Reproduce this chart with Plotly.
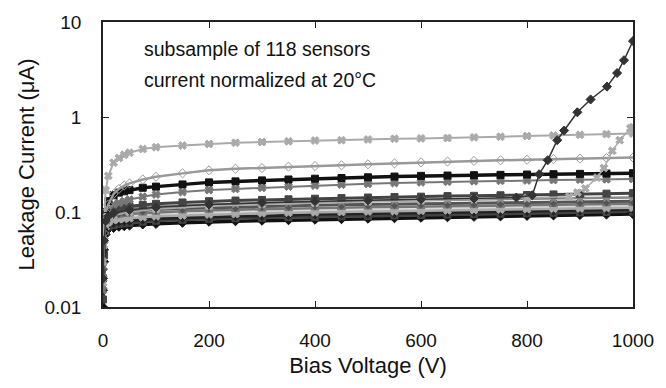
import plotly.graph_objects as go

# Common bias-voltage grid (V)
V = [0, 2, 5, 10, 20, 30, 40, 50, 75, 100, 150, 200, 250, 300, 350, 400,
     450, 500, 550, 600, 650, 700, 750, 800, 850, 900, 950, 1000]

# Upper, well-separated sensors (uA)
top_x = [0.03, 0.08, 0.17, 0.24, 0.33, 0.37, 0.40, 0.42, 0.46, 0.48, 0.50, 0.52, 0.535, 0.545,
         0.555, 0.565, 0.57, 0.58, 0.59, 0.595, 0.60, 0.61, 0.62, 0.63, 0.64, 0.65, 0.66, 0.67]
mid_diamond = [0.02, 0.06, 0.10, 0.12, 0.155, 0.175, 0.19, 0.20, 0.22, 0.235, 0.255, 0.275, 0.285, 0.29,
               0.30, 0.305, 0.31, 0.318, 0.325, 0.333, 0.34, 0.345, 0.35, 0.355, 0.36, 0.365, 0.37, 0.375]
black_k = [0.02, 0.06, 0.10, 0.13, 0.15, 0.16, 0.165, 0.17, 0.18, 0.185, 0.195, 0.205, 0.21, 0.215,
           0.22, 0.224, 0.228, 0.232, 0.236, 0.24, 0.242, 0.244, 0.246, 0.248, 0.25, 0.252, 0.254, 0.256]
gray_g = [0.015, 0.05, 0.085, 0.105, 0.12, 0.125, 0.13, 0.135, 0.145, 0.153, 0.162, 0.17, 0.175, 0.18,
          0.185, 0.19, 0.194, 0.198, 0.202, 0.205, 0.208, 0.211, 0.213, 0.215, 0.217, 0.219, 0.221, 0.223]

# Main bundle of sensors (uA)
b1 = [0.010, 0.030, 0.058, 0.066, 0.068, 0.070, 0.071, 0.072, 0.074, 0.075, 0.077, 0.079, 0.080, 0.081,
      0.082, 0.083, 0.084, 0.085, 0.086, 0.087, 0.088, 0.089, 0.090, 0.091, 0.092, 0.093, 0.094, 0.095]
b2 = [0.012, 0.035, 0.062, 0.070, 0.073, 0.075, 0.076, 0.077, 0.079, 0.081, 0.083, 0.085, 0.086, 0.087,
      0.088, 0.089, 0.090, 0.091, 0.092, 0.093, 0.094, 0.095, 0.096, 0.097, 0.098, 0.099, 0.100, 0.101]
b3 = [0.015, 0.040, 0.065, 0.073, 0.077, 0.079, 0.080, 0.081, 0.083, 0.085, 0.087, 0.089, 0.090, 0.091,
      0.093, 0.094, 0.095, 0.096, 0.097, 0.098, 0.099, 0.100, 0.101, 0.102, 0.103, 0.104, 0.105, 0.106]
b4 = [0.018, 0.045, 0.070, 0.078, 0.082, 0.084, 0.085, 0.086, 0.088, 0.090, 0.092, 0.094, 0.095, 0.097,
      0.098, 0.099, 0.100, 0.101, 0.102, 0.103, 0.104, 0.105, 0.106, 0.107, 0.108, 0.109, 0.110, 0.111]
b5 = [0.020, 0.050, 0.075, 0.082, 0.086, 0.088, 0.089, 0.090, 0.092, 0.094, 0.096, 0.098, 0.099, 0.101,
      0.102, 0.103, 0.104, 0.105, 0.106, 0.107, 0.108, 0.109, 0.110, 0.111, 0.112, 0.113, 0.114, 0.115]
b6 = [0.022, 0.055, 0.078, 0.085, 0.090, 0.092, 0.094, 0.095, 0.097, 0.099, 0.102, 0.104, 0.106, 0.107,
      0.108, 0.110, 0.111, 0.112, 0.113, 0.114, 0.115, 0.116, 0.117, 0.118, 0.119, 0.120, 0.121, 0.122]
b7 = [0.025, 0.060, 0.082, 0.089, 0.095, 0.098, 0.100, 0.101, 0.104, 0.106, 0.109, 0.111, 0.113, 0.115,
      0.116, 0.118, 0.119, 0.120, 0.121, 0.122, 0.123, 0.124, 0.125, 0.126, 0.127, 0.128, 0.129, 0.130]
b8 = [0.028, 0.065, 0.086, 0.094, 0.101, 0.104, 0.106, 0.108, 0.111, 0.114, 0.117, 0.120, 0.122, 0.124,
      0.126, 0.128, 0.129, 0.131, 0.132, 0.133, 0.134, 0.135, 0.137, 0.138, 0.139, 0.140, 0.141, 0.142]
b9 = [0.030, 0.070, 0.090, 0.098, 0.106, 0.110, 0.113, 0.115, 0.119, 0.122, 0.126, 0.130, 0.132, 0.134,
      0.136, 0.138, 0.140, 0.142, 0.144, 0.145, 0.147, 0.148, 0.150, 0.151, 0.153, 0.155, 0.156, 0.158]

# Sensor with early breakdown (dark)
V_dark = [0, 2, 5, 10, 20, 50, 100, 200, 300, 400, 500, 600, 700, 780, 810, 823, 839, 857, 870,
          895, 920, 951, 970, 983, 1000]
I_dark = [0.02, 0.05, 0.08, 0.09, 0.097, 0.105, 0.112, 0.12, 0.125, 0.13, 0.133, 0.136, 0.139, 0.142,
          0.15, 0.25, 0.35, 0.57, 0.72, 1.12, 1.53, 2.09, 2.9, 3.96, 6.3]

# Sensor with late breakdown (light)
V_light = [0, 2, 5, 10, 20, 50, 100, 200, 300, 400, 500, 600, 700, 800, 880, 895, 910, 932, 945,
           961, 975, 995, 1000]
I_light = [0.02, 0.05, 0.075, 0.085, 0.092, 0.10, 0.107, 0.115, 0.12, 0.124, 0.128, 0.132, 0.136, 0.14,
           0.145, 0.16, 0.177, 0.23, 0.29, 0.44, 0.57, 0.76, 0.78]

x_ticks = [0, 200, 400, 600, 800, 1000]
y_ticks = [0.01, 0.1, 1, 10]
y_ticktext = ["0.01", "0.1", "1", "10"]

series = [
    (V, b5, "#d8d8d8", "x", 2.5),
    (V, b1, "#111111", "diamond", 3.5),
    (V, b2, "#444444", "square", 3),
    (V, b3, "#222222", "diamond", 3),
    (V, b4, "#aaaaaa", "x", 2.5),
    (V, b6, "#777777", "triangle-up", 2.5),
    (V, b7, "#555555", "diamond", 3),
    (V, b8, "#888888", "star", 2.5),
    (V, b9, "#444444", "square", 3),
    (V, gray_g, "#777777", "x", 2),
    (V, black_k, "#111111", "square", 3.5),
    (V, mid_diamond, "#999999", "diamond-open", 2.5),
    (V, top_x, "#aaaaaa", "x", 2),
    (V_light, I_light, "#aaaaaa", "x", 1.5),
    (V_dark, I_dark, "#333333", "diamond", 1.5),
]

fig = go.Figure()
for xs, ys, col, sym, w in series:
    fig.add_trace(go.Scatter(
        x=xs, y=ys, mode="lines+markers",
        line=dict(color=col, width=w),
        marker=dict(symbol=sym, size=7, color=col, line=dict(color=col, width=1)),
        showlegend=False,
    ))

font_main = "Liberation Sans, Arial, sans-serif"

fig.update_layout(
    width=666, height=388,
    margin=dict(l=103, r=30, t=16, b=81),
    paper_bgcolor="white", plot_bgcolor="white",
    font=dict(family=font_main, color="#111111"),
    xaxis=dict(
        range=[0, 1000], tickvals=x_ticks, ticks="inside", ticklen=6,
        tickcolor="#222222", showline=True, linecolor="#222222", linewidth=1.5,
        mirror="ticks", showgrid=False, zeroline=False,
        tickfont=dict(size=19), ticklabelstandoff=15,
        title=dict(text="Bias Voltage (V)", font=dict(size=22), standoff=8),
    ),
    yaxis=dict(
        type="log", range=[-2, 1], tickvals=y_ticks, ticktext=y_ticktext,
        ticks="inside", ticklen=6, tickcolor="#222222",
        showline=True, linecolor="#222222", linewidth=1.5, mirror="ticks",
        showgrid=False, zeroline=False,
        tickfont=dict(size=19), ticklabelstandoff=16,
        title=dict(text="Leakage Current (μA)", font=dict(size=22), standoff=4),
    ),
    annotations=[
        dict(text="subsample of 118 sensors", xref="paper", yref="paper",
             x=0.073, y=0.905, xanchor="left", yanchor="middle", showarrow=False,
             font=dict(size=19.5, family=font_main)),
        dict(text="current normalized at 20°C", xref="paper", yref="paper",
             x=0.073, y=0.797, xanchor="left", yanchor="middle", showarrow=False,
             font=dict(size=19.5, family=font_main)),
    ],
)

fig.write_html("out.html")
